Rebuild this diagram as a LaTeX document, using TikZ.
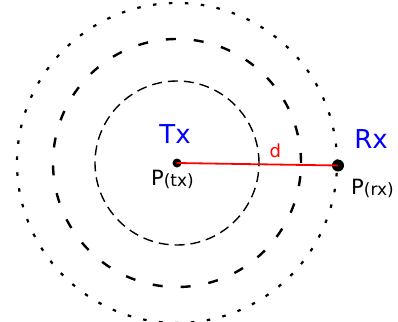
\documentclass[tikz,border=0pt]{standalone}
\usepackage{fontspec}
\setmainfont{DejaVu Sans}
\usetikzlibrary{positioning}

\begin{document}
\begin{tikzpicture}[
  x=1pt, y=-1pt,
  dot/.style={circle, fill=black, inner sep=0pt, minimum size=9pt},
  bigdot/.style={dot, minimum size=12pt},
  station/.style={inner sep=0pt, text=blue, font=\fontsize{26}{30}\selectfont},
  power/.style={inner sep=0pt, anchor=base west, font=\fontsize{21}{24}\selectfont},
  ring1/.style={line width=1.4pt, dash pattern=on 10pt off 6pt},
  ring2/.style={line width=2.4pt, dash pattern=on 10pt off 18pt},
  ring3/.style={line width=2.2pt, dash pattern=on 3.5pt off 12.5pt}
]
  \useasboundingbox (0,0) rectangle (398,321);

  \node[dot] (tx) at (177,163) {};
  \node[bigdot] (rx) at (338,165.5) {};

  % propagation rings
  \draw[ring1] (tx.center) circle (82pt);
  \draw[ring2] (tx.center) circle (124pt);
  \draw[ring3] (tx.center) circle (160pt);

  \draw[red, line width=1.8pt] (tx.center) -- node[pos=0.61, above=3pt, text=red, font=\fontsize{18}{22}\selectfont] {d} (rx.center);

  \node[station] (txname) at (175,134) {Tx};
  \node[station] (rxname) at (371,139) {Rx};
  \node[power] (ptx) at (151,185) {P{\fontsize{17}{20}\selectfont\raisebox{-1.5pt}{(tx)}}};
  \node[power] (prx) at (351,194) {P{\fontsize{17}{20}\selectfont\raisebox{-1.5pt}{(rx)}}};
\end{tikzpicture}
\end{document}
